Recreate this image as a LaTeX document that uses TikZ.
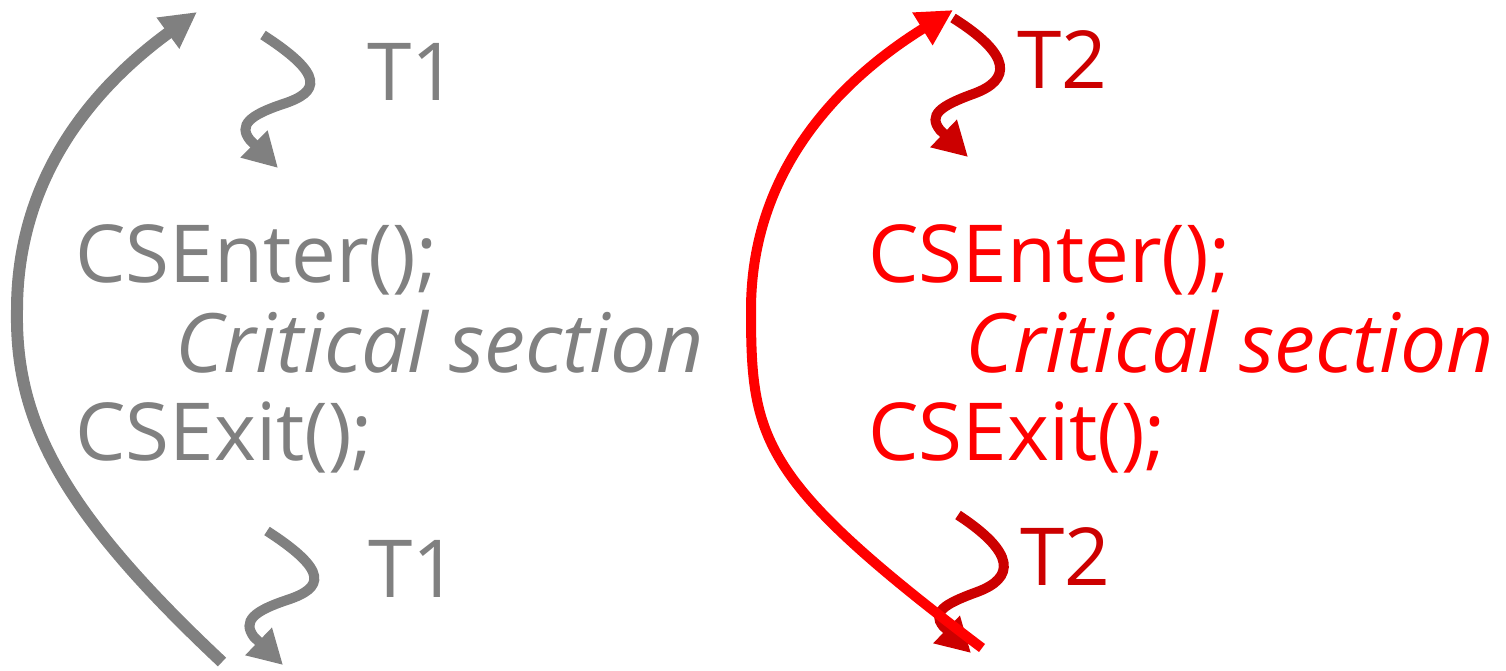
\documentclass[tikz,border=0pt]{standalone}
\usepackage{fontspec}
\setmainfont{Open Sans}
\usetikzlibrary{arrows.meta}
\definecolor{cgray}{HTML}{808080}
\definecolor{cred}{HTML}{FF0000}
\definecolor{cdark}{HTML}{CC0000}
\tikzset{
  codetext/.style={font=\fontsize{80}{90}\selectfont, inner sep=0pt, anchor=base west},
  crittext/.style={codetext, font=\fontsize{82}{90}\selectfont\itshape},
  thr/.style={codetext},
  bigarc/.style={line width=12pt, -{Triangle[length=36pt,width=36pt]}},
  squig/.style={line width=10pt, -{Triangle[length=34pt,width=36pt]}}
}
\begin{document}
\begin{tikzpicture}[x=1pt,y=-1pt]
\useasboundingbox (0,0) rectangle (1506,670);

% ---- gray (T1) ----
\node[codetext, text=cgray] (genter) at (75,282) {CSEnter();};
\node[crittext, text=cgray] (gcrit) at (175,372) {Critical section};
\node[codetext, text=cgray] (gexit) at (75,460) {CSExit();};
\node[thr, text=cgray] (gt1a) at (367,100) {T1};
\node[thr, text=cgray] (gt1b) at (368,597) {T1};

\coordinate (garcs) at (222,662);
\coordinate (garcm) at (17,310);
\coordinate (garce) at (197,12);
\draw[bigarc, cgray] (garcs) .. controls (60,510) and (15,420) .. (garcm)
  .. controls (17,180) and (90,90) .. (garce);

\coordinate (gs1s) at (263,35);
\coordinate (gs1e) at (278,168);
\draw[squig, cgray] (gs1s) .. controls (325,75) and (320,92) .. (283,104)
  .. controls (250,115) and (238,125) .. (250,140) -- (gs1e);
\coordinate (gs2s) at (267,531);
\coordinate (gs2e) at (283,665);
\draw[squig, cgray] (gs2s) .. controls (329,571) and (324,588) .. (287,600)
  .. controls (254,611) and (242,621) .. (254,637) -- (gs2e);

% ---- red (T2) ----
\node[codetext, text=cred] (renter) at (868,282) {CSEnter();};
\node[crittext, text=cred] (rcrit) at (965,372) {Critical section};
\node[codetext, text=cred] (rexit) at (868,460) {CSExit();};
\node[thr, text=cdark] (rt2a) at (1017,88) {T2};
\node[thr, text=cdark] (rt2b) at (1020,585) {T2};

\coordinate (rs1s) at (953,18);
\coordinate (rs1e) at (968,157);
\draw[squig, cdark] (rs1s) .. controls (1012,55) and (1012,80) .. (973,94)
  .. controls (940,106) and (928,115) .. (940,130) -- (rs1e);
\coordinate (rs2s) at (958,515);
\coordinate (rs2e) at (971,653);
\draw[squig, cdark] (rs2s) .. controls (1016,553) and (1015,578) .. (977,592)
  .. controls (944,604) and (932,612) .. (943,626) -- (rs2e);

\coordinate (rarcs) at (982,648);
\coordinate (rarcm) at (751,310);
\coordinate (rarce) at (953,10);
\draw[bigarc, cred, line width=10pt] (rarcs) .. controls (760,480) and (751,440) .. (rarcm)
  .. controls (751,170) and (840,80) .. (rarce);
\end{tikzpicture}
\end{document}
